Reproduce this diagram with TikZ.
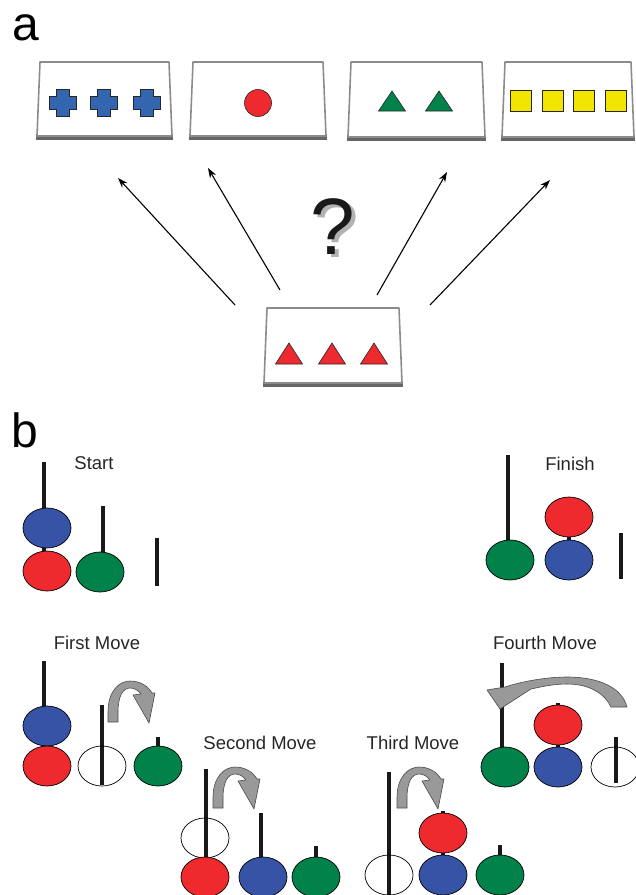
\documentclass[tikz,border=0pt]{standalone}
\usepackage{fontspec}
\setmainfont{Liberation Sans}
\usetikzlibrary{shapes.geometric,arrows.meta}
\definecolor{cblue}{HTML}{3466B0}
\definecolor{cred}{HTML}{EE2A2F}
\definecolor{cgreen}{HTML}{00824A}
\definecolor{cyellow}{HTML}{F2E600}
\definecolor{dblue}{HTML}{3753A5}
\newcommand{\card}[4]{%
  \fill[cardshadow] (#1-1,#4-2) -- (#2+1,#4-2) -- (#2+1,#4+4) -- (#1-1,#4+4) -- cycle;
  \draw[cardedge] (#1+3,#3) -- (#2-3,#3) -- (#2,#4) -- (#1,#4) -- cycle;}

\begin{document}
\begin{tikzpicture}%
[x=1pt,y=-1pt,
cardedge/.style={draw=black!45, line width=1.6pt, fill=white, line join=round},%
cardshadow/.style={fill=black!60},%
token/.style={draw=black!85, line width=0.6pt},%
pointer/.style={-{Stealth[length=10pt,width=7pt]}, line width=1.1pt},%
peg/.style={line width=3.5pt, black!90},%
disk/.style={ellipse, draw=black, line width=0.7pt, minimum width=48pt, minimum height=40pt, inner sep=0pt},%
movelabel/.style={font=\fontsize{18.5}{20}\selectfont, text=black!85},%
hopfill/.style={fill=black!40, draw=black!70, line width=0.6pt, line join=round},%
cross/.pic={\filldraw[token, fill=cblue] (-13.5,-6.5) -- (-6.5,-6.5) -- (-6.5,-13.5) -- (6.5,-13.5) -- (6.5,-6.5) -- (13.5,-6.5) -- (13.5,6.5) -- (6.5,6.5) -- (6.5,13.5) -- (-6.5,13.5) -- (-6.5,6.5) -- (-13.5,6.5) -- cycle;},%
hop/.pic={\filldraw[hopfill] (0,0) -- (0,-10) .. controls (0,-32) and (12,-41) .. (22,-41) .. controls (32,-41) and (40,-36) .. (44,-29) -- (47,-29) -- (41,1) -- (25,-27) -- (33,-28) .. controls (30,-32) and (26,-34) .. (22,-34) .. controls (15,-34) and (10,-26) .. (10,-10) -- (10,0) -- cycle;}]

\useasboundingbox (0,0) rectangle (636,895);

\node (lbla) at (26,28) {\fontsize{48}{48}\selectfont a};
\node (lblb) at (25,430) {\fontsize{48}{48}\selectfont b};

\card{37}{172}{62}{136}
\card{190}{326}{62}{136}
\card{348}{485}{62}{137}
\card{502}{634}{62}{137}
\card{264}{402}{308}{383}

\foreach \x in {63,104,147}
  \path (\x,103) pic {cross};
\filldraw[token, fill=cred] (258,103) circle (13.5);
\foreach \x in {392,439}
  \filldraw[token, fill=cgreen] (\x-13.5,111) -- (\x+13.5,111) -- (\x,91) -- cycle;
\foreach \x in {521,552.5,584,616}
  \filldraw[token, fill=cyellow] (\x-10.5,90) rectangle ++(21,21);
\foreach \x in {289,332,374}
  \filldraw[token, fill=cred] (\x-13.5,364) -- (\x+13.5,364) -- (\x,343) -- cycle;

\coordinate (s1) at (235,305); \coordinate (e1) at (118,178);
\coordinate (s2) at (280,290); \coordinate (e2) at (208,168);
\coordinate (s3) at (377,295); \coordinate (e3) at (447,172);
\coordinate (s4) at (430,305); \coordinate (e4) at (550,180);
\draw[pointer] (s1) -- (e1);
\draw[pointer] (s2) -- (e2);
\draw[pointer] (s3) -- (e3);
\draw[pointer] (s4) -- (e4);

\node[text=black!30] (qshade) at (337,230) {\fontsize{80}{80}\selectfont ?};
\node[text=black!90] (quest) at (333,227) {\fontsize{80}{80}\selectfont ?};

\node[movelabel] (start) at (94,463) {Start};
\draw[peg] (44,462) -- (44,590);
\draw[peg] (103,506) -- (103,590);
\draw[peg] (157,538) -- (157,586);
\node[disk, fill=dblue] (st-b) at (47,528) {};
\node[disk, fill=cred] (st-r) at (47,571) {};
\node[disk, fill=cgreen] (st-g) at (100,572) {};

\node[movelabel] (finish) at (570,464) {Finish};
\draw[peg] (508,455) -- (508,580);
\draw[peg] (569,500) -- (569,580);
\draw[peg] (621,533) -- (621,579);
\node[disk, fill=cgreen] (fi-g) at (510,560) {};
\node[disk, fill=cred] (fi-r) at (569,517) {};
\node[disk, fill=dblue] (fi-b) at (569,560) {};

\node[movelabel] (move1) at (97,643) {First Move};
\draw[peg] (44,661) -- (44,786);
\draw[peg] (102,705) -- (102,785);
\draw[peg] (158,737) -- (158,786);
\node[disk, fill=dblue] (m1-b) at (47,726) {};
\node[disk, fill=cred] (m1-r) at (47,766) {};
\node[disk] (m1-e) at (102,766) {};
\node[disk, fill=cgreen] (m1-g) at (158,766) {};
\path (108,722) pic {hop};

\node[movelabel] (move2) at (260,743) {Second Move};
\draw[peg] (206,769) -- (206,897);
\draw[peg] (261,813) -- (261,897);
\draw[peg] (316,846) -- (316,897);
\node[disk] (m2-e) at (205,838) {};
\node[disk, fill=cred] (m2-r) at (205,877) {};
\node[disk, fill=dblue] (m2-b) at (263,877) {};
\node[disk, fill=cgreen] (m2-g) at (316,877) {};
\path (213,808) pic {hop};

\node[movelabel] (move3) at (413,743) {Third Move};
\draw[peg] (389,772) -- (389,897);
\draw[peg] (443,811) -- (443,897);
\draw[peg] (500,845) -- (500,897);
\node[disk] (m3-e) at (389,875) {};
\node[disk, fill=cred] (m3-r) at (443,833) {};
\node[disk, fill=dblue] (m3-b) at (443,875) {};
\node[disk, fill=cgreen] (m3-g) at (500,875) {};
\path (397,808) pic {hop};

\node[movelabel] (move4) at (545,643) {Fourth Move};
\draw[peg] (502,663) -- (502,787);
\draw[peg] (558,703) -- (558,787);
\draw[peg] (616,737) -- (616,783);
\node[disk, fill=cgreen] (m4-g) at (505,767) {};
\node[disk, fill=cred] (m4-r) at (558,725) {};
\node[disk, fill=dblue] (m4-b) at (558,767) {};
\node[disk] (m4-e) at (615,767) {};
\filldraw[hopfill] (627,707) .. controls (622,688) and (600,677) .. (567,677) .. controls (545,677) and (520,682) .. (505,687) -- (487,690) -- (500,709) -- (531,689) .. controls (545,686) and (555,684) .. (567,684) .. controls (590,684) and (605,694) .. (611,707) -- cycle;
\end{tikzpicture}
\end{document}
